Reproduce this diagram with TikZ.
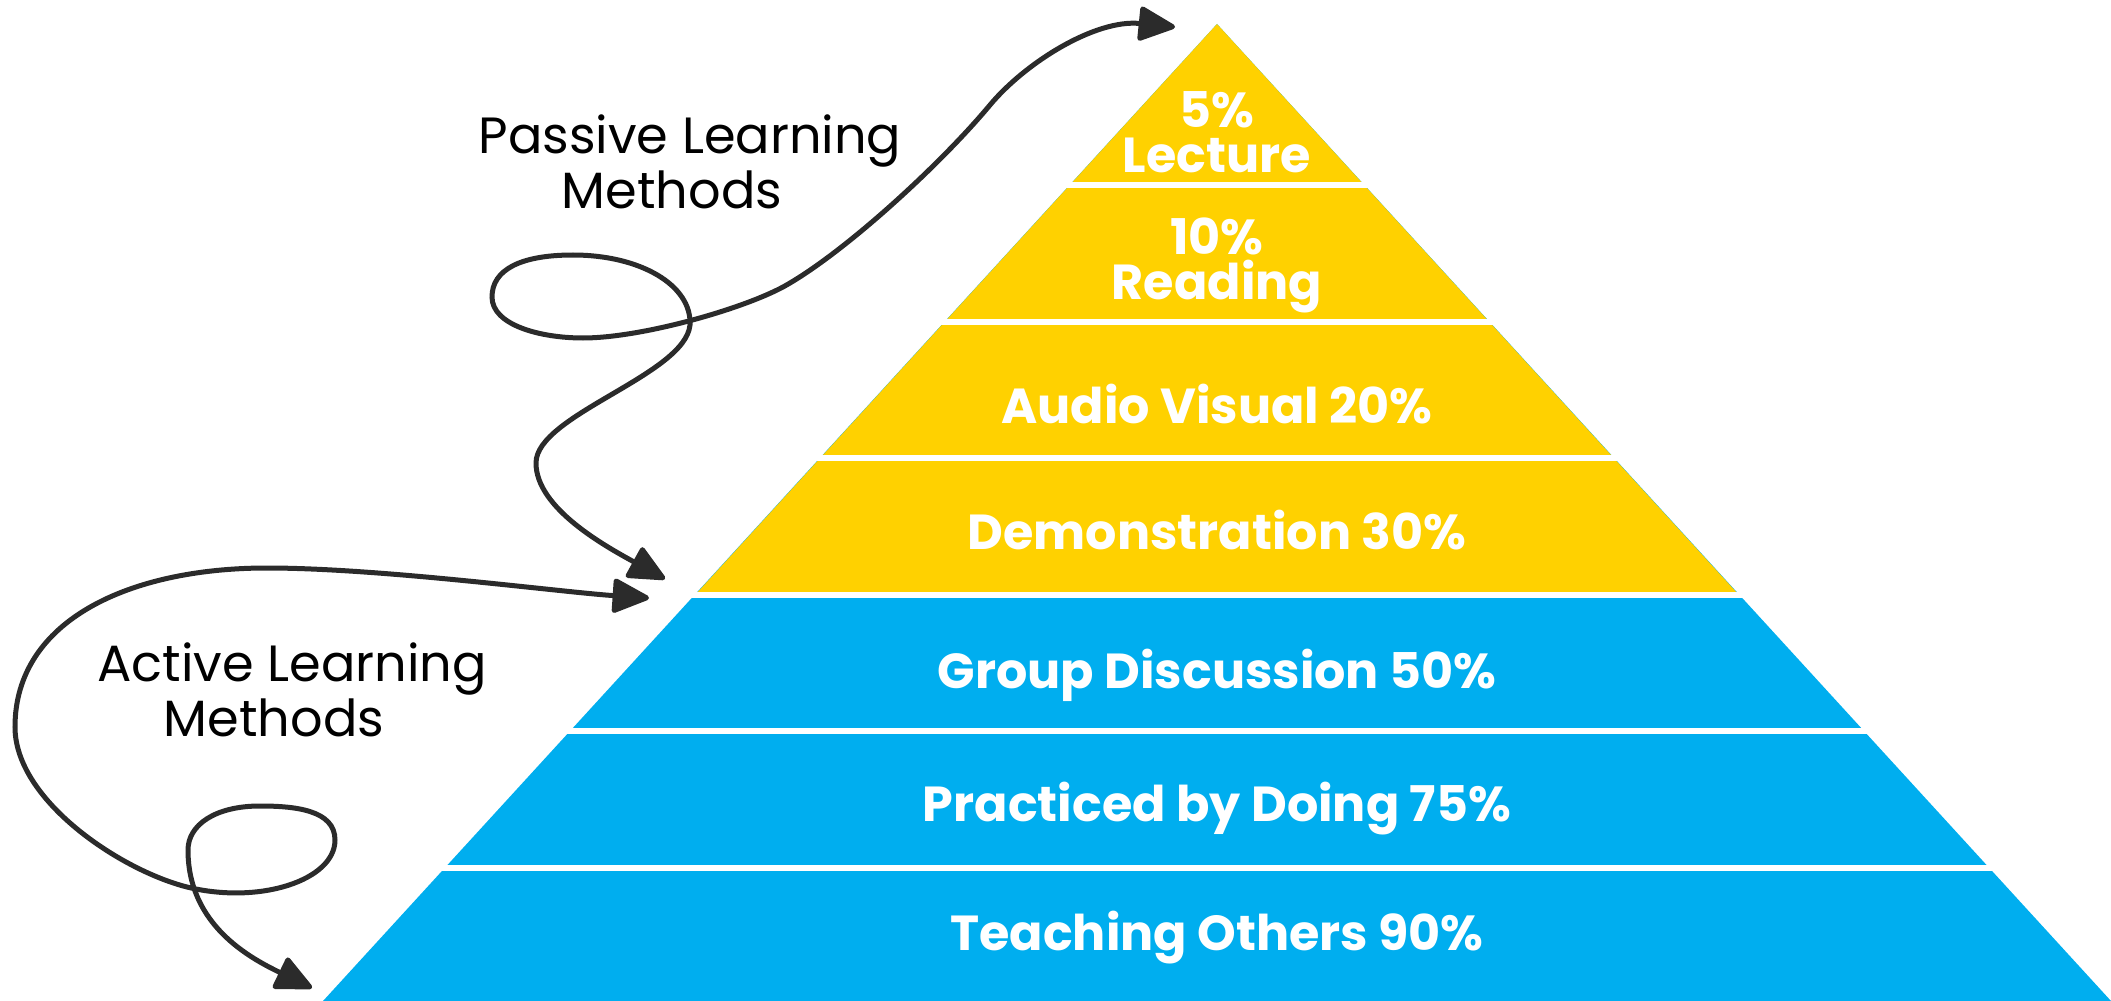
\documentclass[tikz,border=0pt]{standalone}
\usepackage{fontspec}
\setmainfont{Poppins}
\usetikzlibrary{arrows.meta}
\definecolor{passivecol}{HTML}{FFD100}
\definecolor{activecol}{HTML}{00AEEF}
\definecolor{inkcol}{HTML}{2B2B2B}

\begin{document}
\begin{tikzpicture}[x=0.1mm, y=-0.1mm,
  band/.style={text=white, font=\fontsize{14}{12.8}\selectfont\bfseries, align=center, inner sep=0pt},
  method/.style={text=black, font=\fontsize{14.5}{14.5}\selectfont, align=center, inner sep=0pt},
  gap/.style={white, line width=0.6mm},
  curvy/.style={inkcol, line width=0.5mm, line cap=round, {Triangle[length=4mm,width=3.6mm,round]}-{Triangle[length=4mm,width=3.6mm,round]}}]
\useasboundingbox (0,0) rectangle (2111,1001);

% pyramid
\fill[activecol] (1217,24) -- (323,1001) -- (2111,1001) -- cycle;
\fill[passivecol] (1217,24) -- (695,595) -- (1739,595) -- cycle;
\draw[gap] (1055,185) -- (1379,185);
\draw[gap] (929,322) -- (1505,322);
\draw[gap] (805,458) -- (1629,458);
\draw[gap] (680,595) -- (1754,595);
\draw[gap] (555,731) -- (1879,731);
\draw[gap] (430,868) -- (2004,868);

% levels
\node[band] (lecture) at (1217,132) {5\%\\Lecture};
\node[band] (reading) at (1217,265) {10\%\\Reading};
\node[band, anchor=base] (audiovisual) at (1217,423) {Audio Visual 20\%};
\node[band, anchor=base] (demonstration) at (1217,549) {Demonstration 30\%};
\node[band, anchor=base] (groupdiscussion) at (1217,688) {Group Discussion 50\%};
\node[band, anchor=base] (practice) at (1217,821) {Practiced by Doing 75\%};
\node[band, anchor=base] (teaching) at (1217,950) {Teaching Others 90\%};

% side labels
\node[method] (passive) at (690,162) {Passive Learning\\Methods\hspace*{3.6mm}};
\node[method] (active) at (292,690) {Active Learning\\Methods\hspace*{3.6mm}};

% curves
\coordinate (passive-top) at (1175,27);
\coordinate (passive-bot) at (665,579);
\coordinate (active-top) at (649,598);
\coordinate (active-bot) at (312,988);
\draw[curvy] (passive-bot) .. controls (605,546) and (536,508) .. (536,463)
  .. controls (536,415) and (685,375) .. (690,325)
  .. controls (692,285) and (640,255) .. (573,255)
  .. controls (520,255) and (492,270) .. (492,297)
  .. controls (492,325) and (540,338) .. (583,338)
  .. controls (640,338) and (740,310) .. (783,287)
  .. controls (843,254) and (940,165) .. (990,105)
  .. controls (1025,63) and (1095,19) .. (passive-top);
\draw[curvy] (active-top) .. controls (560,592) and (380,568) .. (267,568)
  .. controls (130,568) and (15,620) .. (15,727)
  .. controls (15,800) and (120,870) .. (187,887)
  .. controls (260,905) and (335,880) .. (335,840)
  .. controls (335,810) and (295,806) .. (260,806)
  .. controls (215,806) and (188,825) .. (188,850)
  .. controls (188,925) and (250,958) .. (active-bot);
\end{tikzpicture}
\end{document}
